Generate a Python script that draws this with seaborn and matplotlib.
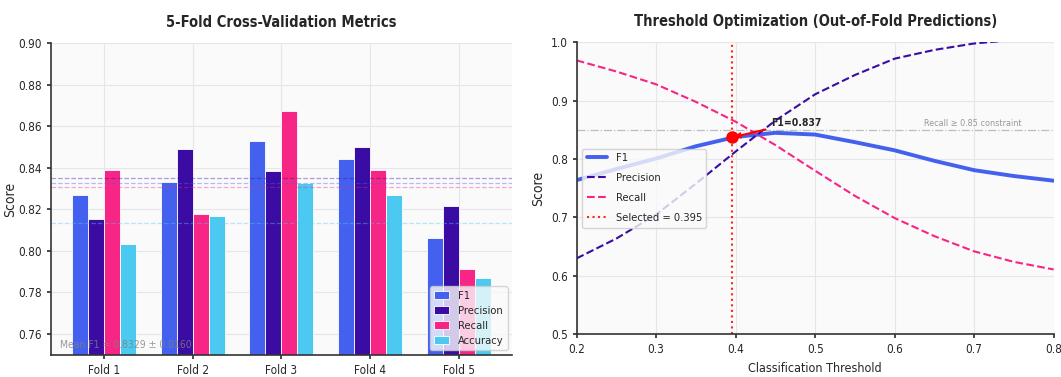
import numpy as np
import pandas as pd
import matplotlib
matplotlib.use('Agg')
import matplotlib.pyplot as plt
from matplotlib import font_manager as fm
import seaborn as sns

# ---------------------------
# Données

folds = ['Fold 1', 'Fold 2', 'Fold 3', 'Fold 4', 'Fold 5']
metrics = ['F1', 'Precision', 'Recall', 'Accuracy']
f1_scores = [0.8267, 0.8331, 0.8530, 0.8443, 0.8061]
precision_scores = [0.8153, 0.8492, 0.8386, 0.8501, 0.8217]
recall_scores = [0.8389, 0.8177, 0.8676, 0.8389, 0.7915]
accuracy_scores = [0.8034, 0.8169, 0.8329, 0.8267, 0.7868]
mean_f1_label = 'Mean F1 = 0.8329 ± 0.0160'

thresholds = [0.20, 0.25, 0.30, 0.35, 0.40, 0.45, 0.50, 0.55, 0.60, 0.65, 0.70, 0.75, 0.80]
f1_curve = [0.764, 0.783, 0.801, 0.822, 0.838, 0.845, 0.842, 0.829, 0.815, 0.797, 0.781, 0.771, 0.763]
precision_curve = [0.630, 0.664, 0.705, 0.758, 0.813, 0.866, 0.911, 0.944, 0.972, 0.987, 0.998, 1.004, 1.008]
recall_curve = [0.969, 0.950, 0.928, 0.898, 0.864, 0.824, 0.780, 0.737, 0.699, 0.668, 0.642, 0.624, 0.611]
best_threshold = 0.395
best_f1 = 0.837
recall_constraint = 0.85

colors = {'F1': '#4361EE', 'Precision': '#3A0CA3', 'Recall': '#F72585', 'Accuracy': '#4CC9F0'}

# ---------------------------
# Style

sns.set_theme(style='whitegrid')

# police étroite si disponible (l'image d'origine est très compressée en largeur)
family, stretch = 'DejaVu Sans', 'normal'
for f in fm.fontManager.ttflist:
    if 'SansCondensed' in f.fname.replace('-', '') or 'SansNarrow' in f.fname.replace('-', ''):
        family, stretch = f.name, f.stretch
        break

plt.rcParams['font.family'] = [family, 'DejaVu Sans']
plt.rcParams['font.stretch'] = stretch
plt.rcParams['axes.facecolor'] = '#FAFAFA'
plt.rcParams['grid.color'] = '#E6E6E6'
plt.rcParams['grid.linewidth'] = 0.8
plt.rcParams['axes.edgecolor'] = '#333333'

fig = plt.figure(figsize=(10.61, 3.77), dpi=100)
ax1 = fig.add_axes([0.0478, 0.0592, 0.4348, 0.826])
ax2 = fig.add_axes([0.5435, 0.1133, 0.4496, 0.7745])

# ---------------------------
# Panneau gauche : métriques par fold

df = pd.DataFrame({
    'Fold': folds * 4,
    'Metric': np.repeat(metrics, len(folds)),
    'Score': f1_scores + precision_scores + recall_scores + accuracy_scores,
})

sns.barplot(data=df, x='Fold', y='Score', hue='Metric', palette=colors,
            width=0.72, saturation=1, errorbar=None, edgecolor='white',
            linewidth=0.6, ax=ax1)

series = {'F1': f1_scores, 'Precision': precision_scores,
          'Recall': recall_scores, 'Accuracy': accuracy_scores}
for name, vals in series.items():
    ax1.axhline(np.mean(vals), color=colors[name], ls='--', lw=0.9, alpha=0.4)

ax1.set_ylim(0.75, 0.90)
ax1.set_xlim(-0.6, 4.6)
ax1.set_yticks([0.76, 0.78, 0.80, 0.82, 0.84, 0.86, 0.88, 0.90])
ax1.grid(True, axis='both')
ax1.set_axisbelow(True)
ax1.set_xlabel('')
ax1.set_ylabel('Score', fontsize=10, family='DejaVu Sans', labelpad=1)
ax1.set_title('5-Fold Cross-Validation Metrics', fontsize=10.5, fontweight='bold', pad=12)
ax1.tick_params(labelsize=8.5, length=3, color='#333333')
ax1.text(0.02, 0.02, mean_f1_label, transform=ax1.transAxes, fontsize=7.5,
         color='gray', alpha=0.8, zorder=10)
ax1.legend(loc='lower right', fontsize=8, frameon=True, handlelength=1.3,
           labelspacing=0.45, borderaxespad=0.4)

# ---------------------------
# Panneau droit : optimisation du seuil

sns.lineplot(x=thresholds, y=f1_curve, color=colors['F1'], lw=2.8, label='F1', ax=ax2)
sns.lineplot(x=thresholds, y=precision_curve, color=colors['Precision'], lw=1.5,
             ls='--', label='Precision', ax=ax2)
sns.lineplot(x=thresholds, y=recall_curve, color=colors['Recall'], lw=1.5,
             ls='--', label='Recall', ax=ax2)
ax2.axvline(best_threshold, color='red', ls=':', lw=1.5, alpha=0.85,
            label=f'Selected = {best_threshold}')
ax2.axhline(recall_constraint, color='gray', ls='-.', lw=0.9, alpha=0.5)
ax2.text(0.637, recall_constraint + 0.003, 'Recall ≥ 0.85 constraint', fontsize=6.5,
         color='gray', alpha=0.8, va='bottom')
ax2.plot([best_threshold], [best_f1], 'o', color='red', ms=8, zorder=10)
ax2.annotate(f'F1={best_f1}', xy=(best_threshold, best_f1), xytext=(0.445, 0.853),
             fontsize=7.5, fontweight='bold', va='bottom', ha='left',
             arrowprops=dict(arrowstyle='->', color='red', lw=1.5, relpos=(0, 0)))

ax2.set_xlim(0.2, 0.8)
ax2.set_ylim(0.5, 1.0)
ax2.set_xlabel('Classification Threshold', fontsize=9)
ax2.set_ylabel('Score', fontsize=10, family='DejaVu Sans', labelpad=4)
ax2.set_title('Threshold Optimization (Out-of-Fold Predictions)', fontsize=10.5,
              fontweight='bold', pad=12)
ax2.tick_params(labelsize=8.5, length=3, color='#333333')
ax2.legend(loc='center left', fontsize=8, frameon=True, handlelength=1.8,
           labelspacing=0.9)

for ax in (ax1, ax2):
    sns.despine(ax=ax)
    ax.spines['left'].set_linewidth(1.2)
    ax.spines['bottom'].set_linewidth(1.2)
    ax.tick_params(left=True, bottom=True)

fig.savefig('out.png', dpi=100)
